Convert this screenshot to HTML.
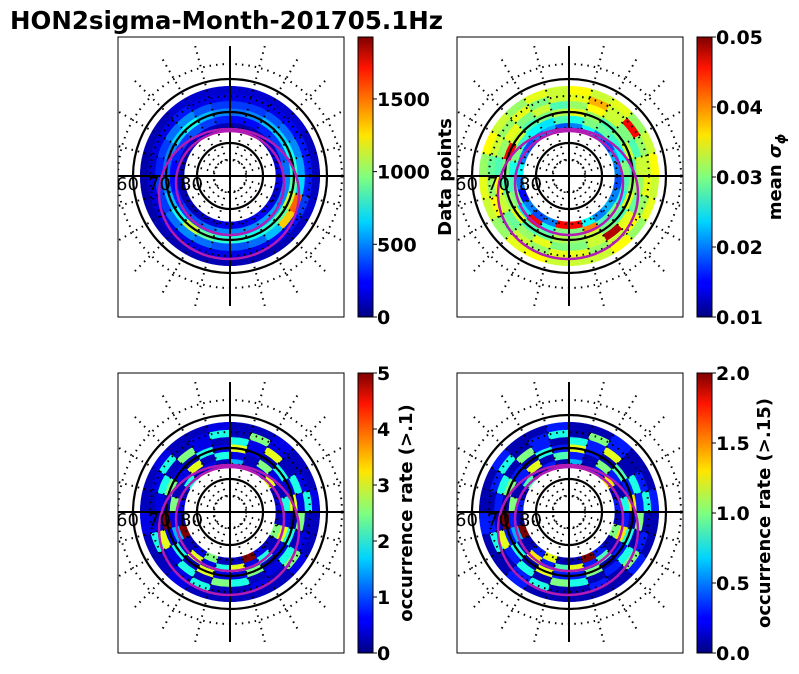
<!DOCTYPE html>
<html><head><meta charset="utf-8"><style>
html,body{margin:0;padding:0;background:#fff;}
svg{display:block;font-family:"DejaVu Sans","Liberation Sans",sans-serif;}
</style></head><body>
<svg id="fig" width="799" height="674" viewBox="0 0 799 674">
<defs>
<linearGradient id="jet" x1="0" y1="1" x2="0" y2="0">
<stop offset="0" stop-color="#00007f"/><stop offset="0.11" stop-color="#0000ff"/><stop offset="0.125" stop-color="#0000ff"/>
<stop offset="0.34" stop-color="#00d4ff"/><stop offset="0.5" stop-color="#7fff7f"/><stop offset="0.65" stop-color="#ffe500"/>
<stop offset="0.89" stop-color="#ff1400"/><stop offset="1" stop-color="#7f0000"/>
</linearGradient>
</defs>
<text x="10" y="29" font-size="24.5" font-weight="bold">HON2sigma-Month-201705.1Hz</text>
</svg>
<script>
// MLT hours 0..23, rings inner -> outer
const mltHours = [0,1,2,3,4,5,6,7,8,9,10,11,12,13,14,15,16,17,18,19,20,21,22,23];
const countsData = [
[200,150,120,100,100,80,80,100,120,150,120,100,80,80,100,120,150,200,200,150,200,250,200,200],
[500,450,400,350,300,250,250,300,350,400,350,300,250,250,300,350,400,450,500,500,550,550,500,500],
[800,900,1100,750,600,500,450,500,650,750,600,500,450,500,600,650,750,800,900,1100,900,800,750,800],
[400,450,500,450,350,350,300,350,450,500,400,350,350,350,400,450,500,550,650,1500,1300,600,450,400],
[200,200,200,200,180,180,150,180,200,280,200,200,200,200,200,250,280,280,280,350,280,250,200,200],
[100,100,100,100,80,80,80,100,100,150,150,150,150,150,150,150,120,120,120,150,120,100,100,100]];
const sigmaData = [
[0.045,0.02,0.018,0.02,0.015,0.02,0.025,0.02,0.018,0.02,0.022,0.018,0.02,0.025,0.02,0.018,0.022,0.02,0.018,0.02,0.022,0.02,0.025,0.045],
[0.03,0.026,0.045,0.024,0.03,0.028,0.026,0.03,0.027,0.025,0.024,0.028,0.026,0.03,0.029,0.027,0.025,0.03,0.028,0.026,0.03,0.028,0.04,0.03],
[0.032,0.029,0.028,0.034,0.031,0.028,0.03,0.045,0.033,0.028,0.03,0.032,0.034,0.031,0.028,0.03,0.033,0.028,0.031,0.034,0.028,0.03,0.033,0.031],
[0.03,0.034,0.031,0.029,0.033,0.035,0.028,0.031,0.034,0.03,0.033,0.028,0.031,0.035,0.033,0.03,0.028,0.033,0.031,0.029,0.034,0.048,0.033,0.03],
[0.034,0.031,0.033,0.03,0.035,0.031,0.029,0.033,0.031,0.034,0.03,0.033,0.034,0.038,0.033,0.045,0.031,0.033,0.034,0.031,0.035,0.033,0.031,0.034],
[0.033,0.035,0.034,0.031,0.033,0.034,0.031,0.035,0.033,0.031,0.034,0.033,0.035,0.033,0.034,0.031,0.033,0.035,0.033,0.034,0.031,0.035,0.033,0.033]];
const occ1Data = [
[0.3,2.5,0.5,0.3,5,0.3,0.5,0.3,2,0.3,0.5,0.3,1.5,0.3,0.5,3,0.3,0.5,0.3,2.5,0.3,0.5,5,0.3],
[2,0.5,3,0.3,1.5,0.5,2.5,0.3,0.5,3,0.3,2,0.5,0.3,2.5,0.5,0.3,2,0.5,3,0.3,2,0.5,3],
[0.5,3,0.3,2,0.5,5,0.3,2.5,0.5,0.3,2,0.5,3,0.5,0.3,2,0.5,3,0.3,2,0.5,0.3,2.5,0.5],
[2.5,0.3,2,0.5,3,0.3,0.5,2,0.3,2.5,0.5,0.3,2,0.5,3,0.3,2,0.5,2.5,0.3,2,0.5,0.3,2],
[0.3,2,0.5,0.3,2,0.5,0.3,0.5,2,0.3,0.5,2,0.3,2.5,0.5,0.3,0.5,2,0.3,0.5,2.5,0.3,0.5,0.3],
[0.3,0.3,0.5,0.3,0.3,0.5,0.3,0.3,0.5,0.3,0.3,0.5,0.3,0.3,0.5,0.3,0.3,0.5,0.3,0.3,0.5,0.3,0.3,0.3]];
const occ2Data = [
[0.1,1.2,0.3,0.1,2,0.1,0.3,0.1,0.9,0.1,0.3,0.1,0.6,0.1,0.3,1.3,0.1,0.3,0.1,1,0.1,0.3,2,0.1],
[0.9,0.3,1.3,0.1,0.6,0.3,1,0.1,0.3,1.2,0.1,0.9,0.3,0.1,1,0.3,0.1,0.8,0.3,1.3,0.1,0.9,0.3,1.2],
[0.3,1.2,0.1,0.8,0.3,2,0.1,1,0.3,0.1,0.8,0.3,1.2,0.3,0.1,0.9,0.3,1.3,0.1,0.8,0.3,0.1,1,0.3],
[1,0.1,0.8,0.3,1.2,0.1,0.3,0.8,0.1,1,0.3,0.1,0.8,0.3,1.2,0.1,0.8,0.3,1,0.1,0.8,0.3,0.1,0.8],
[0.1,0.8,0.3,0.1,0.8,0.3,0.1,0.3,0.8,0.1,0.3,0.8,0.1,1,0.3,0.1,0.3,0.8,0.1,0.3,1,0.1,0.3,0.1],
[0.1,0.1,0.3,0.1,0.1,0.3,0.1,0.1,0.3,0.1,0.1,0.3,0.1,0.1,0.3,0.1,0.1,0.3,0.1,0.1,0.3,0.1,0.1,0.1]];
const cb1Ticks = [0,500,1000,1500];
const cb2Ticks = [0.01,0.02,0.03,0.04,0.05];
const cb3Ticks = [0,1,2,3,4,5];
const cb4Ticks = [0.0,0.5,1.0,1.5,2.0];
const latLabels = ["60","70","80"];

const NS="http://www.w3.org/2000/svg";
const fig=document.getElementById('fig');
function mk(tag,attrs,parent){const e=document.createElementNS(NS,tag);for(const k in attrs)e.setAttribute(k,attrs[k]);(parent||fig).appendChild(e);return e;}
function jet(t){t=Math.max(0,Math.min(1,t));
 const r=Math.min(4*t-1.5,-4*t+4.5),g=Math.min(4*t-0.5,-4*t+3.5),b=Math.min(4*t+0.5,-4*t+2.5);
 const c=v=>Math.round(255*Math.max(0,Math.min(1,v)));return `rgb(${c(r)},${c(g)},${c(b)})`;}
const R0=46, DR=7.3;
function rScale(i){return R0+i*DR;}
function angle(h){return Math.PI/2 + h/24*2*Math.PI;}
function pt(cx,cy,r,a){return [cx+r*Math.cos(a),cy+r*Math.sin(a)];}

function panel(idx,bx,by,data,vmin,vmax,ticks,fmt){
 const w=226,h=280,cx=bx+112,cy=by+139;
 const g=mk('g',{});
 
 
 const cp=mk('clipPath',{id:'clip'+idx},g);
 mk('rect',{x:bx,y:by,width:w,height:h},cp);
 const inner=mk('g',{'clip-path':`url(#clip${idx})`},g);
 data.forEach((row,ri)=>{row.forEach((v,hi)=>{
  if(v==null)return;
  const r1=rScale(ri),r2=rScale(ri+1),a1=angle(mltHours[hi]),a2=angle(mltHours[hi]+1);
  const p1=pt(cx,cy,r1,a1),p2=pt(cx,cy,r2,a1),p3=pt(cx,cy,r2,a2),p4=pt(cx,cy,r1,a2);
  const col=jet((v-vmin)/(vmax-vmin));
  const c=mk('path',{d:`M${p1}L${p2}A${r2},${r2} 0 0 1 ${p3}L${p4}A${r1},${r1} 0 0 0 ${p1}Z`,fill:col,stroke:col,'stroke-width':0.5},inner);
  
  
 });});
 [16,48,80,112].forEach(r=>mk('circle',{cx,cy,r,fill:'none',stroke:'#000','stroke-width':2,'stroke-dasharray':'1.5 5'},inner));
 for(let k=0;k<24;k++){if(k%6===0)continue;const a=k/24*2*Math.PI;const p1=pt(cx,cy,16,a),p2=pt(cx,cy,135,a);
  mk('line',{x1:p1[0],y1:p1[1],x2:p2[0],y2:p2[1],stroke:'#000','stroke-width':2,'stroke-dasharray':'1.5 5'},inner);}
 [33,64,97].forEach(r=>mk('circle',{cx,cy,r,fill:'none',stroke:'#000','stroke-width':2.2},inner));
 mk('line',{x1:cx,y1:cy-130,x2:cx,y2:cy+130,stroke:'#000','stroke-width':2},inner);
 mk('line',{x1:bx,y1:cy,x2:bx+w,y2:cy,stroke:'#000','stroke-width':2},inner);
 mk('ellipse',{cx:cx-1,cy:cy+18,rx:70,ry:65,fill:'none',stroke:'#b41ab4','stroke-width':2.5},inner);
 mk('ellipse',{cx:cx,cy:cy+7,rx:54,ry:52,fill:'none',stroke:'#b41ab4','stroke-width':2.5},inner);
 latLabels.forEach((t,i)=>{const tx=mk('text',{x:bx-2+i*32,y:cy+14,'font-size':18},inner);tx.textContent=t;
  });
 mk('rect',{x:bx,y:by,width:w,height:h,fill:'none',stroke:'#000','stroke-width':1},g);
 const cbx=bx+240,cbw=15;
 const cb=mk('rect',{x:cbx,y:by,width:cbw,height:h,fill:'url(#jet)',stroke:'#000','stroke-width':1},g);
 
 
 ticks.forEach(t=>{const y=by+h-(t-vmin)/(vmax-vmin)*h;
  mk('line',{x1:cbx+cbw,y1:y,x2:cbx+cbw+4,y2:y,stroke:'#000','stroke-width':1},g);
  const tx=mk('text',{x:cbx+cbw+4,y:y+7,'font-size':19,'font-weight':'bold'},g);tx.textContent=fmt(t);
  });
}
const f0=t=>String(t),f2=t=>t.toFixed(2),f1=t=>t.toFixed(1);
panel(1,118,37,countsData,0,1926,cb1Ticks,f0);
panel(2,457,37,sigmaData,0.01,0.05,cb2Ticks,f2);
panel(3,118,373,occ1Data,0,5,cb3Ticks,f0);
panel(4,457,373,occ2Data,0,2,cb4Ticks,f1);
function vlabel(x,y,html,name){const t=mk('text',{x,y,'font-size':18,'font-weight':'bold','text-anchor':'middle',transform:`rotate(-90 ${x} ${y})`});t.innerHTML=html;
 }
vlabel(451,177,'Data points','colorbar-label-1');
vlabel(781,177,'mean <tspan font-style="italic">σ</tspan><tspan font-style="italic" font-size="13" dy="4">ϕ</tspan>','colorbar-label-2');
vlabel(412,513,'occurrence rate (&gt;.1)','colorbar-label-3');
vlabel(770,513,'occurrence rate (&gt;.15)','colorbar-label-4');
</script>
</body></html>
